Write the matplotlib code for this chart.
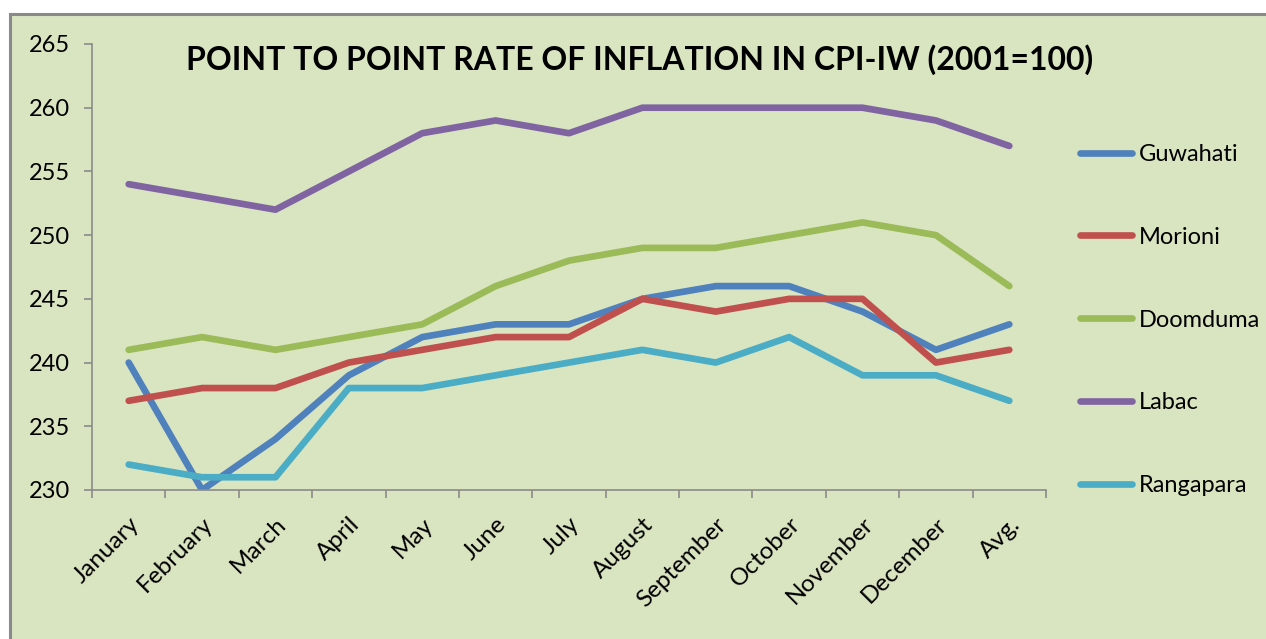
import numpy as np
import matplotlib.pyplot as plt
from matplotlib.patches import Rectangle

plt.rcParams['font.family'] = ['Lato', 'DejaVu Sans']

months = ['January', 'February', 'March', 'April', 'May', 'June', 'July',
          'August', 'September', 'October', 'November', 'December', 'Avg.']

guwahati = [240, 230, 234, 239, 242, 243, 243, 245, 246, 246, 244, 241, 243]
morioni = [237, 238, 238, 240, 241, 242, 242, 245, 244, 245, 245, 240, 241]
doomduma = [241, 242, 241, 242, 243, 246, 248, 249, 249, 250, 251, 250, 246]
labac = [254, 253, 252, 255, 258, 259, 258, 260, 260, 260, 260, 259, 257]
rangapara = [232, 231, 231, 238, 238, 239, 240, 241, 240, 242, 239, 239, 237]

names = ['Guwahati', 'Morioni', 'Doomduma', 'Labac', 'Rangapara']
colors = ['#4F81BD', '#C0504D', '#9BBB59', '#8064A2', '#4BACC6']
bg = '#D9E4C1'

fig = plt.figure(figsize=(12.66, 6.39), dpi=100, facecolor='white')

# chart area box (only top and left edges visible in the crop)
box = Rectangle((10 / 1266, -0.1), 1.2, (639 - 14) / 639 + 0.1,
                transform=fig.transFigure, facecolor=bg,
                edgecolor='#8A8A8A', linewidth=2.2, zorder=-10)
fig.patches.append(box)

ax = fig.add_axes([92 / 1266, 149 / 639, 954 / 1266, 446 / 639])
ax.set_facecolor('none')
ax.set_zorder(5)

x = np.arange(len(months))
for vals, name, c in zip([guwahati, morioni, doomduma, labac, rangapara], names, colors):
    ax.plot(x, vals, color=c, lw=4.8, label=name,
            solid_capstyle='round', solid_joinstyle='round')

ax.set_xlim(-0.5, len(months) - 0.5)
ax.set_ylim(230, 265)
ax.set_yticks(range(230, 266, 5))

ax.set_xticks(x)
ax.set_xticklabels(months, rotation=45, ha='right', rotation_mode='anchor', fontsize=17.5)
ax.set_xticks(np.arange(-0.5, len(months)), minor=True)
ax.tick_params(axis='x', which='major', length=0, pad=17)
ax.tick_params(axis='x', which='minor', length=6, color='#8A8A8A', width=1.2)
ax.tick_params(axis='y', length=6, color='#8A8A8A', width=1.2, labelsize=17, pad=10)

for s in ['top', 'right']:
    ax.spines[s].set_visible(False)
for s in ['left', 'bottom']:
    ax.spines[s].set_color('#8A8A8A')
    ax.spines[s].set_linewidth(1.2)

fig.text(640 / 1266, (639 - 60) / 639, 'POINT TO POINT RATE OF INFLATION IN CPI-IW (2001=100)',
         ha='center', va='center', fontsize=23, fontweight='bold', zorder=6)

ax.legend(loc='upper left', bbox_to_anchor=(1068 / 1266, (639 - 132) / 639),
          bbox_transform=fig.transFigure, frameon=False, fontsize=17,
          handlelength=2.2, handletextpad=0.3, labelspacing=2.62, borderpad=0)

fig.savefig('out.png', dpi=100)
